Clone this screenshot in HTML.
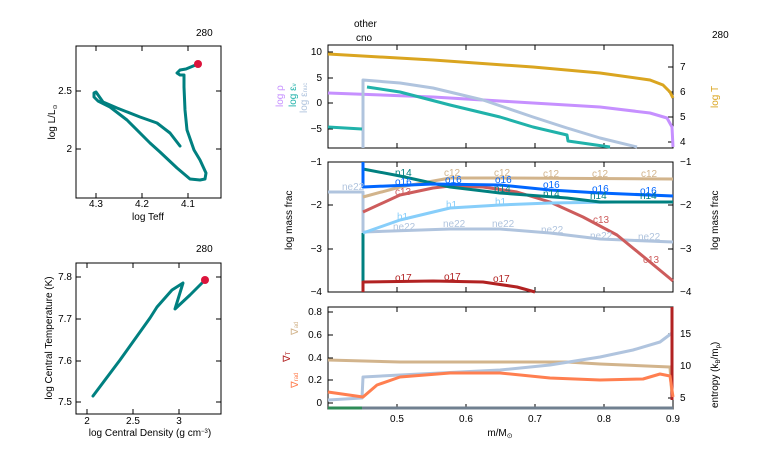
<!DOCTYPE html>
<html><head><meta charset="utf-8"><style>
body{margin:0;background:#fff}
svg{display:block}
text{font-family:"Liberation Sans",sans-serif;font-size:10px}
</style></head><body>
<svg width="766" height="460" viewBox="0 0 766 460" xmlns="http://www.w3.org/2000/svg">
<g fill="none" stroke="#000" stroke-width="1">
<rect x="76" y="46" width="145" height="152"/>
<rect x="76" y="263" width="145" height="151"/>
<rect x="328" y="45" width="345" height="103"/>
<rect x="328" y="162" width="345" height="130"/>
<rect x="328" y="307" width="345" height="102"/>
</g>
<!-- ticks -->
<g stroke="#000" stroke-width="1">
<!-- HR -->
<path d="M96 198v-5M142 198v-5M188 198v-5M96 46v5M142 46v5M188 46v5M76 91h5M76 149h5M221 91h-5M221 149h-5"/>
<!-- Tc rho -->
<path d="M87 414v-5M133 414v-5M179 414v-5M87 263v5M133 263v5M179 263v5M76 277h5M76 319h5M76 361h5M76 402h5M221 277h-5M221 319h-5M221 361h-5M221 402h-5"/>
<!-- main x ticks -->
<path d="M397 148v-5M466 148v-5M535 148v-5M604 148v-5M397 292v-5M466 292v-5M535 292v-5M604 292v-5M397 409v-5M466 409v-5M535 409v-5M604 409v-5M397 307v5M466 307v5M535 307v5M604 307v5M397 162v5M466 162v5M535 162v5M604 162v5M397 45v5M466 45v5M535 45v5M604 45v5"/>
<path d="M328 52h5M328 78h5M328 103h5M328 129h5M673 67h-5M673 92h-5M673 117h-5M673 142h-5"/>
<path d="M328 162h5M328 205h5M328 249h5M328 292h5M673 162h-5M673 205h-5M673 249h-5M673 292h-5"/>
<path d="M328 312h5M328 335h5M328 358h5M328 380h5M328 403h5M673 334h-5M673 366h-5M673 398h-5"/>
</g>
<!-- labels -->
<g fill="#000">
<text x="196" y="36" font-size="8">280</text>
<text x="196" y="252" font-size="8">280</text>
<text x="712" y="38" font-size="8">280</text>
<text x="354" y="27" font-size="8">other</text>
<text x="356" y="41" font-size="8">cno</text>
<text x="96" y="207" font-size="8" text-anchor="middle">4.3</text>
<text x="142" y="207" font-size="8" text-anchor="middle">4.2</text>
<text x="188" y="207" font-size="8" text-anchor="middle">4.1</text>
<text x="72" y="94" font-size="8" text-anchor="end">2.5</text>
<text x="72" y="152" font-size="8" text-anchor="end">2</text>
<text x="148" y="220" font-size="8" text-anchor="middle">log Teff</text>
<text transform="translate(55,122) rotate(-90)" font-size="8" text-anchor="middle">log L/L<tspan font-size="6" dy="2">⊙</tspan></text>
<text x="87" y="424" font-size="8" text-anchor="middle">2</text>
<text x="133" y="424" font-size="8" text-anchor="middle">2.5</text>
<text x="179" y="424" font-size="8" text-anchor="middle">3</text>
<text x="72" y="280" font-size="8" text-anchor="end">7.8</text>
<text x="72" y="322" font-size="8" text-anchor="end">7.7</text>
<text x="72" y="364" font-size="8" text-anchor="end">7.6</text>
<text x="72" y="405" font-size="8" text-anchor="end">7.5</text>
<text x="150" y="436" font-size="8" text-anchor="middle">log Central Density (g cm<tspan font-size="6" dy="-3">−3</tspan><tspan dy="3">)</tspan></text>
<text transform="translate(52,338) rotate(-90)" font-size="8" text-anchor="middle">log Central Temperature (K)</text>
<!-- main left ticks -->
<text x="322" y="55" text-anchor="end">10</text>
<text x="322" y="81" text-anchor="end">5</text>
<text x="322" y="106" text-anchor="end">0</text>
<text x="322" y="132" text-anchor="end">−5</text>
<text x="680" y="70">7</text><text x="680" y="95">6</text><text x="680" y="120">5</text><text x="680" y="145">4</text>
<text x="322" y="165" text-anchor="end">−1</text>
<text x="322" y="208" text-anchor="end">−2</text>
<text x="322" y="252" text-anchor="end">−3</text>
<text x="322" y="295" text-anchor="end">−4</text>
<text x="680" y="165">−1</text><text x="680" y="208">−2</text><text x="680" y="252">−3</text><text x="680" y="295">−4</text>
<text x="322" y="315" text-anchor="end">0.8</text>
<text x="322" y="338" text-anchor="end">0.6</text>
<text x="322" y="361" text-anchor="end">0.4</text>
<text x="322" y="383" text-anchor="end">0.2</text>
<text x="322" y="406" text-anchor="end">0</text>
<text x="680" y="337">15</text><text x="680" y="369">10</text><text x="680" y="401">5</text>
<text x="397" y="422" text-anchor="middle">0.5</text>
<text x="466" y="422" text-anchor="middle">0.6</text>
<text x="535" y="422" text-anchor="middle">0.7</text>
<text x="604" y="422" text-anchor="middle">0.8</text>
<text x="673" y="422" text-anchor="middle">0.9</text>
<text x="500" y="436" text-anchor="middle">m/M<tspan font-size="7" dy="2">⊙</tspan></text>
<text transform="translate(718,250) rotate(-90)" font-size="9">log mass frac</text>
<text transform="translate(292,250) rotate(-90)" font-size="9">log mass frac</text>
<text transform="translate(718,408) rotate(-90)" font-size="9">entropy (k<tspan font-size="6" dy="2">B</tspan><tspan dy="-2">/m</tspan><tspan font-size="6" dy="2">p</tspan><tspan dy="-2">)</tspan></text>
<text transform="translate(718,108) rotate(-90)" font-size="9" fill="#daa520">log T</text>
<text transform="translate(283,107) rotate(-90)" font-size="9" fill="#c690ff">log ρ</text>
<text transform="translate(296,107) rotate(-90)" font-size="9" fill="#20b2aa">log ε<tspan font-size="6">ν</tspan></text>
<text transform="translate(307,113) rotate(-90)" font-size="9" fill="#b0c4de">log ε<tspan font-size="6">nuc</tspan></text>
<text transform="translate(298,335) rotate(-90)" font-size="9" fill="#d2b48c">∇<tspan font-size="6">ad</tspan></text>
<text transform="translate(290,362) rotate(-90)" font-size="9" fill="#b22222">∇<tspan font-size="6">T</tspan></text>
<text transform="translate(298,388) rotate(-90)" font-size="9" fill="#ff7f50">∇<tspan font-size="6">rad</tspan></text>
</g>
<!-- HR track -->
<g fill="none" stroke-linejoin="round" stroke-linecap="round">
<path stroke="#008080" stroke-width="3" d="M198 64 L186 69 L180 70 L177 73 L180 75 L184 75 L184 87 L185 110 L187 130 L194 150 L200 160 L206 173 L205 179 L200 180 L190 179 L177 168 L160 152 L150 143 L127 120 L110 107 L98 101 L94 97 L94 93 L96 92 L103 102 L117 108 L140 117 L157 123 L170 133 L180 146"/>
<path stroke="#008080" stroke-width="3" d="M93 396 L120 360 L150 318 L157 307 L172 290 L183 283 L175 309 L190 295 L203 282"/>
</g>
<circle cx="198" cy="64" r="4" fill="#dc143c"/>
<circle cx="205" cy="280" r="4" fill="#dc143c"/>
<!-- top panel -->
<g fill="none" stroke-width="3" stroke-linejoin="round">
<path stroke="#daa520" d="M328 54 L433 60 L533 67 L600 73 L650 80 L663 85 L670 92 L673 98"/>
<path stroke="#c690ff" d="M328 93 L433 97 L533 103 L600 107 L650 113 L667 118 L672 127 L673 147"/>
<path stroke="#b0c4de" d="M363 148 L363 80 L400 83 L433 88 L483 100 L533 117 L567 128 L600 138 L637 147"/>
<path stroke="#20b2aa" d="M328 127 L362 129 M367 87 L400 92 L450 105 L500 117 L533 127 L567 135 L568 141 L610 147"/>
</g>
<!-- middle panel -->
<g fill="none" stroke-width="3" stroke-linejoin="round">
<path stroke="#b0c4de" d="M328 192 L363 192 L363 232 L450 229 L500 229 L550 233 L600 239 L673 242"/>
<path stroke="#008080" d="M363 292 L363 233"/>
<path stroke="#d2b48c" d="M363 197 L400 187 L450 178 L500 178 L673 179"/>
<path stroke="#cd5c5c" d="M363 212 L400 195 L433 188 L450 186 L483 187 L517 192 L550 202 L583 217 L617 235 L650 262 L673 281"/>
<path stroke="#87cefa" d="M363 233 L400 220 L450 208 L500 205 L550 203 L617 202"/>
<path stroke="#008080" d="M363 169 L400 176 L450 187 L500 193 L567 198 L600 202 L673 202"/>
<path stroke="#0066ff" d="M363 162 L363 187 L433 184 L500 185 L550 190 L600 193 L673 196"/>
<path stroke="#b22222" d="M363 292 L363 282 L433 281 L483 282 L517 287 L535 292"/>
</g>
<g font-size="9">
<text x="395" y="176" fill="#008080">n14</text><text x="494" y="192" fill="#008080">n14</text><text x="543" y="197" fill="#008080">n14</text><text x="590" y="199" fill="#008080">n14</text><text x="640" y="199" fill="#008080">n14</text>
<text x="395" y="185" fill="#0066ff">o16</text><text x="445" y="183" fill="#0066ff">o16</text><text x="495" y="183" fill="#0066ff">o16</text><text x="543" y="188" fill="#0066ff">o16</text><text x="592" y="192" fill="#0066ff">o16</text><text x="640" y="194" fill="#0066ff">o16</text>
<text x="444" y="176" fill="#d2b48c">c12</text><text x="494" y="176" fill="#d2b48c">c12</text><text x="543" y="177" fill="#d2b48c">c12</text><text x="592" y="177" fill="#d2b48c">c12</text><text x="641" y="177" fill="#d2b48c">c12</text>
<text x="395" y="195" fill="#cd5c5c">c13</text><text x="593" y="223" fill="#cd5c5c">c13</text><text x="643" y="263" fill="#cd5c5c">c13</text>
<text x="342" y="190" fill="#b0c4de">ne22</text><text x="393" y="230" fill="#b0c4de">ne22</text><text x="443" y="227" fill="#b0c4de">ne22</text><text x="492" y="227" fill="#b0c4de">ne22</text><text x="541" y="233" fill="#b0c4de">ne22</text><text x="590" y="239" fill="#b0c4de">ne22</text><text x="638" y="240" fill="#b0c4de">ne22</text>
<text x="397" y="220" fill="#87cefa">h1</text><text x="446" y="208" fill="#87cefa">h1</text><text x="495" y="205" fill="#87cefa">h1</text>
<text x="395" y="281" fill="#b22222">o17</text><text x="444" y="280" fill="#b22222">o17</text><text x="493" y="282" fill="#b22222">o17</text>
</g>
<!-- bottom panel -->
<g fill="none" stroke-width="3" stroke-linejoin="round">
<path stroke="#d2b48c" d="M328 360 L400 362 L567 362 L600 364 L670 367 L672 397"/>
<path stroke="#b0c4de" d="M328 400 L362 398 L363 377 L400 375 L500 370 L550 365 L600 357 L633 350 L660 342 L672 333"/>
<path stroke="#b22222" d="M672 307 L672 400"/>
<path stroke="#ff7f50" d="M328 392 L363 397 L377 385 L400 377 L450 373 L500 373 L550 378 L600 380 L643 379 L660 374 L670 376 L673 397"/>
<path stroke="#2e8b57" d="M328 408 L362 408"/>
<path stroke="#708090" d="M362 408 L673 408"/>
</g>
</svg>
</body></html>
